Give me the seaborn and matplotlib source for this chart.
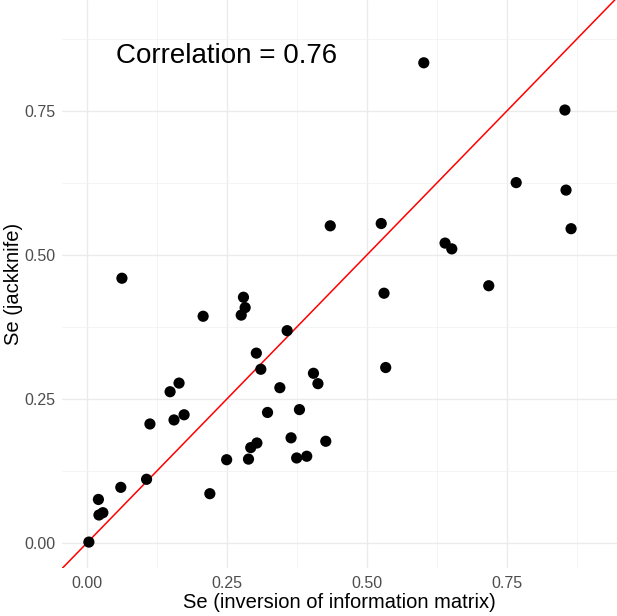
import pandas as pd
import matplotlib.pyplot as plt
import seaborn as sns

# Se values
se_info = [0.063, 0.280, 0.283, 0.276, 0.208, 0.358, 0.303, 0.311, 0.405, 0.413,
           0.345, 0.149, 0.165, 0.174, 0.156, 0.113, 0.323, 0.380, 0.365, 0.427,
           0.304, 0.293, 0.289, 0.250, 0.375, 0.393, 0.107, 0.061, 0.220, 0.021,
           0.022, 0.029, 0.004, 0.435, 0.602, 0.854, 0.767, 0.856, 0.865, 0.526,
           0.640, 0.652, 0.718, 0.531, 0.534]
se_jack = [0.460, 0.427, 0.409, 0.396, 0.394, 0.369, 0.330, 0.302, 0.295, 0.277,
           0.270, 0.263, 0.278, 0.223, 0.214, 0.207, 0.227, 0.232, 0.183, 0.177,
           0.174, 0.166, 0.146, 0.145, 0.148, 0.151, 0.111, 0.097, 0.086, 0.076,
           0.049, 0.053, 0.002, 0.551, 0.834, 0.752, 0.626, 0.613, 0.546, 0.555,
           0.521, 0.511, 0.447, 0.434, 0.305]
ticks = [0.00, 0.25, 0.50, 0.75]
tick_labels = ["0.00", "0.25", "0.50", "0.75"]
minor_ticks = [0.125, 0.375, 0.625, 0.875]

df = pd.DataFrame({"info": se_info, "jack": se_jack})

sns.set_style("white")
plt.rcParams["font.family"] = ["Liberation Sans", "DejaVu Sans"]
plt.rcParams["text.color"] = "black"
plt.rcParams["axes.labelcolor"] = "black"

fig = plt.figure(figsize=(6.17, 6.16), dpi=100)
ax = fig.add_axes([62 / 617, 48 / 616, 555 / 617, 568 / 616])

sns.scatterplot(data=df, x="info", y="jack", color="black", s=65,
                edgecolor="none", ax=ax, zorder=3)
ax.axline((0, 0), slope=1, color="red", lw=1.1, zorder=2)

ax.set_xlim(-0.044, 0.947)
ax.set_ylim(-0.043, 0.943)
ax.set_xticks(ticks)
ax.set_xticklabels(tick_labels)
ax.set_yticks(ticks)
ax.set_yticklabels(tick_labels)
ax.set_xticks(minor_ticks, minor=True)
ax.set_yticks(minor_ticks, minor=True)
ax.grid(True, which="major", color="#EBEBEB", lw=1.0)
ax.grid(True, which="minor", color="#F2F2F2", lw=0.6)
ax.set_axisbelow(True)
for sp in ax.spines.values():
    sp.set_visible(False)
ax.tick_params(which="both", length=0, labelsize=11.5, labelcolor="#4D4D4D")
ax.tick_params(axis="x", pad=6)
ax.tick_params(axis="y", pad=5)

ax.set_xlabel("Se (inversion of information matrix)", fontsize=14.5, labelpad=1)
ax.set_ylabel("Se (jackknife)", fontsize=14.5, labelpad=1)

ax.text(0.25, 0.845, "Correlation = 0.76", fontsize=20, ha="center", va="center")

plt.savefig("out.png", dpi=100)
plt.close()
